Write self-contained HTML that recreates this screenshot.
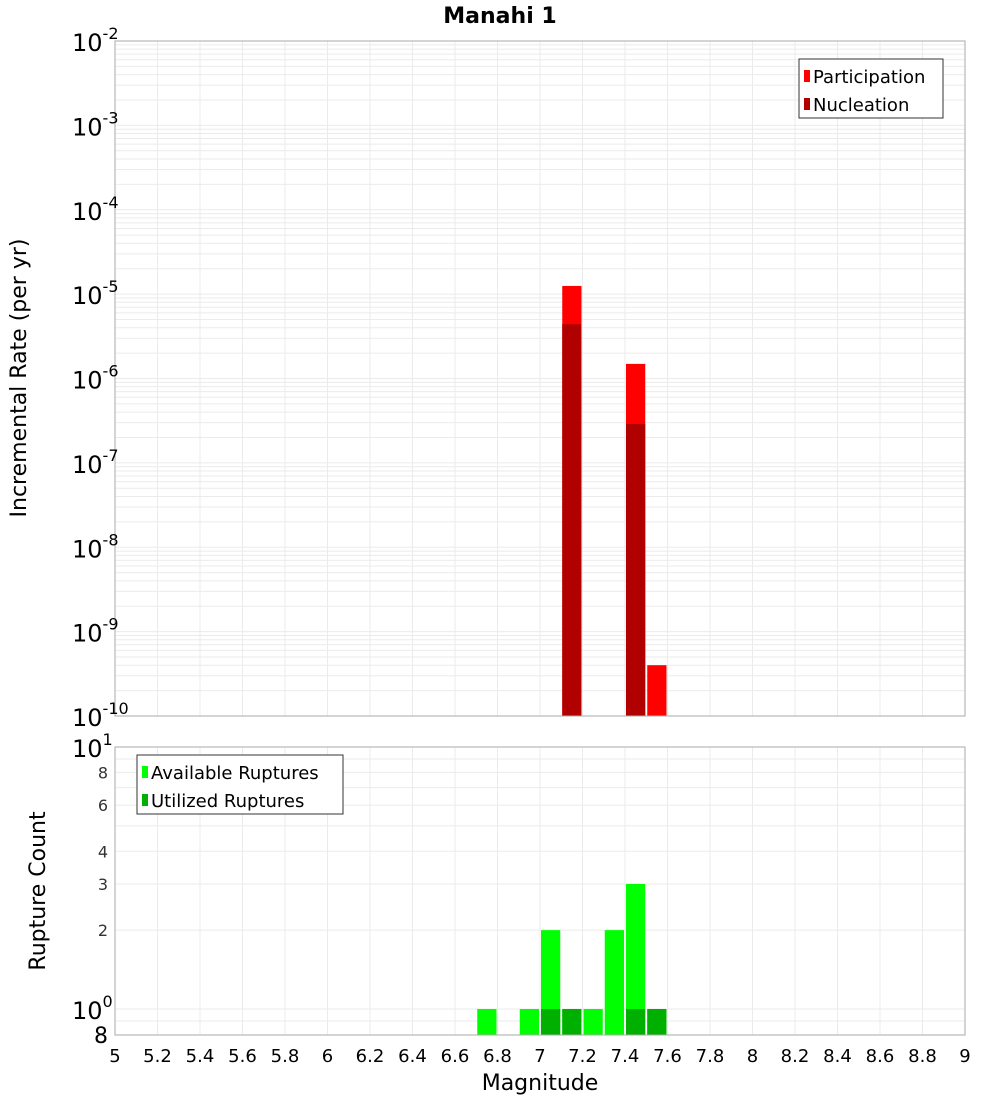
<!DOCTYPE html>
<html><head><meta charset="utf-8"><style>
body{margin:0;background:#fff;font-family:"DejaVu Sans","Liberation Sans",sans-serif}
</style></head><body>
<svg id="c" width="1000" height="1100" xmlns="http://www.w3.org/2000/svg" font-family="DejaVu Sans, Liberation Sans, sans-serif"></svg>
<script>
const binStarts=[7.1,7.4,7.5];
const participation=[1.25e-5,1.49e-6,4.0e-10];
const nucleation=[4.4e-6,2.89e-7,0];
const countBins=[6.7,6.9,7.0,7.1,7.2,7.3,7.4,7.5];
const available=[1,1,2,1,1,2,3,1];
const utilized=[0,0,1,1,0,0,1,1];
const xTicks=[5,5.2,5.4,5.6,5.8,6,6.2,6.4,6.6,6.8,7,7.2,7.4,7.6,7.8,8,8.2,8.4,8.6,8.8,9];

const svg=document.getElementById('c');const NS='http://www.w3.org/2000/svg';
function el(t,a,p){const e=document.createElementNS(NS,t);for(const k in a)e.setAttribute(k,a[k]);(p||svg).appendChild(e);return e;}
const X0=115,X1=965;
const x=m=>X0+(m-5)/4*(X1-X0);
const yT=v=>41+(-2-Math.log10(v))*84.375;
const yB=v=>1009-Math.log10(v)*262;
// grid top
const g1=el('g',{});
for(let d=-10;d<-2;d++)for(let k=1;k<10;k++){const yy=yT(k*Math.pow(10,d));el('line',{x1:X0,x2:X1,y1:yy,y2:yy,stroke:'#ebebeb'},g1);}
xTicks.forEach(t=>el('line',{x1:x(t),x2:x(t),y1:41,y2:716,stroke:'#ebebeb'},g1));
const g2=el('g',{});
[0.9,1,2,3,4,5,6,7,8,9].forEach(v=>{const yy=yB(v);el('line',{x1:X0,x2:X1,y1:yy,y2:yy,stroke:'#ebebeb'},g2);});
xTicks.forEach(t=>el('line',{x1:x(t),x2:x(t),y1:747,y2:1035,stroke:'#ebebeb'},g2));
// top bars
binStarts.forEach((b,i)=>{
 let r=el('rect',{x:x(b)+1,y:yT(participation[i]),width:x(b+0.1)-x(b)-2,height:716-yT(participation[i]),fill:'#ff0000'});
 
 if(nucleation[i]>0){let n=el('rect',{x:x(b)+1,y:yT(nucleation[i]),width:x(b+0.1)-x(b)-2,height:716-yT(nucleation[i]),fill:'#b00000'});
 }
});
countBins.forEach((b,i)=>{
 let r=el('rect',{x:x(b)+1,y:yB(available[i]),width:x(b+0.1)-x(b)-2,height:1035-yB(available[i]),fill:'#00ff00'});
 
 if(utilized[i]>0){let n=el('rect',{x:x(b)+1,y:yB(utilized[i]),width:x(b+0.1)-x(b)-2,height:1035-yB(utilized[i]),fill:'#00b000'});
 }
});
// frames
let f=el('rect',{x:X0,y:41,width:X1-X0,height:675,fill:'none',stroke:'#aaa'});
f=el('rect',{x:X0,y:747,width:X1-X0,height:288,fill:'none',stroke:'#aaa'});
// title
let t=el('text',{x:500,y:23,'text-anchor':'middle','font-size':22,'font-weight':'bold'});t.textContent='Manahi 1';
// top y ticks
for(let d=-2;d>=-10;d--){const tx=el('text',{x:72,y:yT(Math.pow(10,d))+10,'font-size':24});tx.innerHTML='10<tspan dy="-12" font-size="16">'+d+'</tspan>';
 }
t=el('text',{x:0,y:0,'text-anchor':'middle','font-size':22,transform:'translate(26,378) rotate(-90)'});t.textContent='Incremental Rate (per yr)';
// bottom y ticks
[[1,'10','1'],[0,'10','0']].forEach(([p,b,s])=>{const tx=el('text',{x:72,y:yB(Math.pow(10,p))+10,'font-size':24});tx.innerHTML=b+'<tspan dy="-12" font-size="16">'+s+'</tspan>';});
[[8,'8'],[6,'6'],[4,'4'],[3,'3'],[2,'2']].forEach(([v,s])=>{const tx=el('text',{x:108,y:yB(v)+6,'font-size':16,'text-anchor':'end',fill:'#333'});tx.textContent=s;});
t=el('text',{x:108,y:1043,'font-size':22,'text-anchor':'end'});t.textContent='8';
t=el('text',{x:0,y:0,'text-anchor':'middle','font-size':22,transform:'translate(45,891) rotate(-90)'});t.textContent='Rupture Count';
// x ticks
xTicks.forEach(v=>{const tx=el('text',{x:x(v),y:1062,'font-size':18,'text-anchor':'middle'});tx.textContent=String(v);});
t=el('text',{x:540,y:1090,'font-size':22,'text-anchor':'middle'});t.textContent='Magnitude';
// legends
function legend(x0,y0,w,h,items,name){const g=el('g',{});
 el('rect',{x:x0,y:y0,width:w,height:h,fill:'#fff',stroke:'#333'},g);
 items.forEach(([c,s],i)=>{el('rect',{x:x0+5,y:y0+11+i*28,width:6,height:12,fill:c},g);const tx=el('text',{x:x0+14,y:y0+24+i*28,'font-size':18},g);tx.textContent=s;});}
legend(799,59,144,59,[['#ff0000','Participation'],['#b00000','Nucleation']],'top-legend');
legend(137,755,206,59,[['#00ff00','Available Ruptures'],['#00b000','Utilized Ruptures']],'bottom-legend');
</script>
</body></html>
